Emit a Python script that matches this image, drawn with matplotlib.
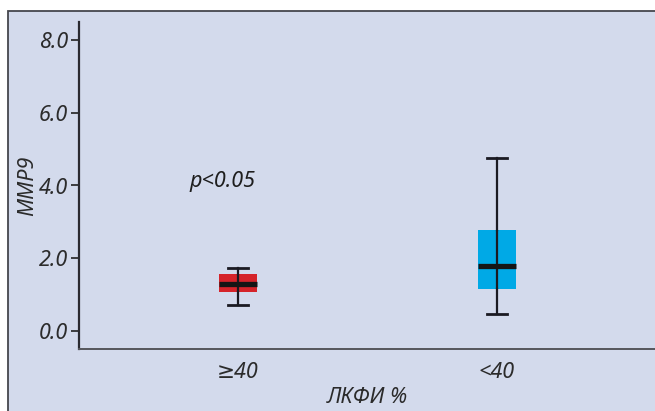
import matplotlib
matplotlib.use("Agg")
import matplotlib.pyplot as plt
from matplotlib.patches import Rectangle

categories = ["\u226540", "<40"]
whislo = [0.72, 0.47]
q1 = [1.07, 1.16]
med = [1.29, 1.79]
q3 = [1.57, 2.78]
whishi = [1.73, 4.76]
box_colors = ["#d5232a", "#00a9e6"]
yticks = [0.0, 2.0, 4.0, 6.0, 8.0]

W, H = 655, 411
fig = plt.figure(figsize=(W / 100, H / 100), dpi=100, facecolor="white")
# outer frame
fig.patches.append(Rectangle((8 / W, -0.01), 1.0, (H - 11) / H + 0.01,
                             transform=fig.transFigure, facecolor="#d3daec",
                             edgecolor="#45464d", linewidth=1.3, zorder=-5))

ax = fig.add_axes([79 / W, (H - 349) / H, 1 - 79 / W, (349 - 22) / H])
ax.set_facecolor("none")
ax.set_zorder(2)

font = ["Noto Sans", "DejaVu Sans"]
fs = 15.5
stats = []
for i in range(len(categories)):
    stats.append(dict(whislo=whislo[i], q1=q1[i], med=med[i], q3=q3[i],
                      whishi=whishi[i], fliers=[], label=categories[i]))
pos = list(range(len(categories)))
bp = ax.bxp(stats, positions=pos, widths=0.147, capwidths=0.078,
            patch_artist=True, showfliers=False,
            boxprops=dict(linewidth=0),
            medianprops=dict(color="#151515", linewidth=3.8, solid_capstyle="butt", zorder=5),
            whiskerprops=dict(color="#1a1a22", linewidth=1.6, zorder=4),
            capprops=dict(color="#1a1a22", linewidth=2.0, zorder=4))
for patch, c in zip(bp["boxes"], box_colors):
    patch.set_facecolor(c)
    patch.set_edgecolor(c)
    patch.set_zorder(3)
ax.vlines(pos, q1, q3, color="#1a1a22", linewidth=1.6, zorder=4)

ax.set_xlim(-0.614, 1.61)
ax.set_ylim(-0.5, 8.5)
ax.set_yticks(yticks)
ax.set_yticklabels([f"{v:.1f}" for v in yticks], fontsize=fs,
                   fontstyle="italic", family=font, color="#2b2b2b")
ax.set_xticks(pos)
ax.set_xticklabels(categories, fontsize=fs, fontstyle="italic",
                   family=font, color="#2b2b2b")
ax.tick_params(axis="y", direction="out", length=6, width=1.2, color="#222222", pad=2)
ax.tick_params(axis="x", length=0, pad=9)

for s in ["top", "right"]:
    ax.spines[s].set_visible(False)
ax.spines["left"].set_color("#2a2a30")
ax.spines["left"].set_linewidth(1.6)
ax.spines["bottom"].set_color("#55565c")
ax.spines["bottom"].set_linewidth(1.4)

ax.set_ylabel("MMP9", fontsize=fs, fontstyle="italic", family=font,
              color="#2b2b2b")
ax.yaxis.set_label_coords(-0.071, 0.5)
ax.set_xlabel("\u041b\u041a\u0424\u0418 %", fontsize=fs, fontstyle="italic",
              family=font, color="#2b2b2b", labelpad=3)

ax.text(-0.06, 4.1, "p<0.05", fontsize=fs, fontstyle="italic", family=font,
        color="#1e1e1e", ha="center", va="center")

fig.savefig("out.png", dpi=100, facecolor="white")
